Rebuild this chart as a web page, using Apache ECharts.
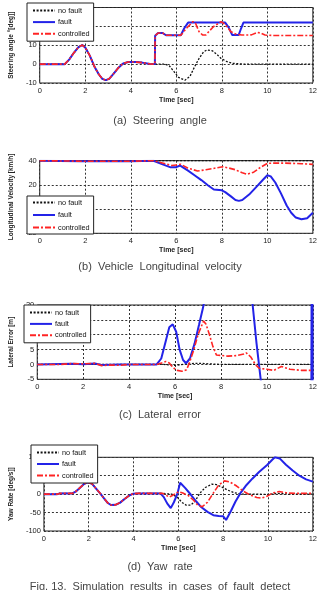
<!DOCTYPE html>
<html><head><meta charset="utf-8">
<script src="https://cdn.jsdelivr.net/npm/echarts@6/dist/echarts.min.js"></script>
<style>html,body{margin:0;padding:0;background:#fff}#c{width:320px;height:590px}</style>
</head><body><div id="c"></div>
<script>
// ---------- (a) Steering angle ----------
const steerCommonT = [0, 1.1, 1.3, 1.5, 1.7, 1.87, 2.0, 2.2, 2.4, 2.6, 2.75, 2.9, 3.05, 3.25, 3.45, 3.65, 3.88, 4.2, 4.5, 4.85, 5.06];
const steerCommonV = [0, 0, 2.5, 6, 9, 10.1, 8.8, 4.5, -1.2, -5.5, -7.8, -8.5, -7.8, -5, -2, 0.2, 1.1, 1.1, 0.8, 0.1, 0];
const steerNoFaultT = [5.5, 5.7, 5.9, 6.1, 6.38, 6.6, 6.8, 7.0, 7.2, 7.35, 7.6, 7.8, 7.97, 8.2, 8.46, 9.0, 12];
const steerNoFaultV = [0, -1, -4, -7, -8.5, -6.5, -1.5, 3, 6.5, 7.5, 7, 5, 3, 1.5, 0.4, 0, 0];
const steerFaultT = [5.07, 5.2, 5.4, 5.55, 6.2, 6.35, 6.52, 8.15, 8.3, 8.46, 8.74, 8.85, 8.95, 12];
const steerFaultV = [15, 16.5, 16.5, 15.3, 15.3, 19, 22, 22, 19.5, 15.4, 15.4, 19, 22, 22];
const steerCtrlT = [5.07, 5.2, 5.4, 5.55, 6.2, 6.45, 6.73, 6.85, 7.0, 7.15, 7.3, 7.45, 7.63, 7.97, 8.15, 8.4, 8.6, 8.88, 9.3, 9.57, 9.7, 9.9, 10.2, 12];
const steerCtrlV = [15, 16.5, 16.5, 15.3, 15.3, 19, 22.5, 21.5, 17.2, 15.5, 15.4, 17.5, 19.8, 22.5, 21, 17.2, 16, 15.4, 15.5, 16.8, 16.5, 15.4, 15.2, 15.2];

// ---------- (b) Longitudinal velocity ----------
const velNoFaultT = [0, 12];
const velNoFaultV = [40, 40];
const velFaultT = [0, 1.8, 4.0, 5.0, 5.2, 5.4, 5.55, 5.75, 5.97, 6.17, 6.5, 6.8, 7.1, 7.4, 7.65, 8.0, 8.15, 8.4, 8.6, 8.75, 8.9, 9.2, 9.5, 9.8, 10.0, 10.15, 10.35, 10.6, 10.85, 11.05, 11.25, 11.5, 11.75, 12];
const velFaultV = [40, 39.6, 39.6, 40, 38.5, 37, 35.9, 34.5, 34.5, 36, 32, 28, 24, 19.5, 16.2, 15.5, 14, 10.5, 7.5, 6.8, 7.5, 12, 18, 24, 28, 27, 22, 13, 3, -3, -7, -8.4, -7.5, -3];
const velCtrlT = [0, 1.8, 4.0, 5.0, 5.3, 5.6, 5.8, 6.0, 6.2, 6.5, 6.93, 7.3, 7.6, 8.04, 8.3, 8.6, 8.9, 9.1, 9.4, 9.7, 10.0, 10.3, 10.8, 11.5, 12];
const velCtrlV = [40, 39.6, 39.6, 40, 38.5, 37, 36, 36.5, 37, 34, 31.5, 32.5, 33.5, 35, 34, 32.5, 30, 28.8, 30.5, 34.5, 37.8, 38, 38, 37.5, 37];

// ---------- (c) Lateral error ----------
const latNoFaultT = [0, 1, 2, 3, 5.5, 6.0, 6.5, 7.0, 7.5, 8, 9, 12];
const latNoFaultV = [0, 0, 0.1, 0, 0, -0.3, 0.2, 0.4, 0.2, 0, 0, 0];
const latFaultT = [0, 1.5, 2.0, 2.5, 2.8, 3.2, 3.6, 5.2, 5.4, 5.6, 5.75, 5.9, 6.05, 6.2, 6.35, 6.48, 6.65, 6.85, 7.05, 7.2, 7.3, 7.5, 9.2, 9.38, 9.55, 9.73, 9.85, 11.93, 11.95, 11.965, 11.98, 11.995];
const latFaultV = [0, 0.2, 0.1, 0.3, -0.2, -0.1, 0, 0, 2, 8, 12.5, 13.5, 11, 5, 1.5, 0.4, 2, 7, 13.5, 18.5, 22, 30, 30, 20, 7, -5, -12, -30, 40, -30, 40, -30];
const latCtrlT = [0, 1.0, 1.5, 2.0, 2.5, 2.8, 3.2, 3.6, 4.0, 5.2, 5.45, 5.6, 5.75, 5.9, 6.1, 6.3, 6.5, 6.6, 6.8, 7.0, 7.24, 7.35, 7.5, 7.65, 7.8, 8.3, 8.7, 9.0, 9.1, 9.3, 9.5, 9.66, 10.0, 10.3, 10.63, 11.0, 11.5, 12];
const latCtrlV = [0, 0, 0.3, 0.2, 0.4, -0.4, -0.2, -0.3, 0, 0, 0.6, 1.0, 0.5, -1, -2, -2.3, -1.8, 0, 4.5, 10, 14.6, 13.5, 10, 6, 3.2, 2.8, 3, 3.5, 3.9, 2.5, 0, -1.3, -1.6, -2, -0.7, -1.6, -2, -2];

// ---------- (d) Yaw rate ----------
const yawCommonT = [0, 0.6, 0.7, 1.25, 1.4, 1.6, 1.8, 1.96, 2.15, 2.3, 2.5, 2.7, 2.85, 2.99, 3.2, 3.4, 3.6, 3.8, 3.97, 4.2, 5.2];
const yawCommonV = [0, 0, 2, 2, 6, 17, 28, 32, 28, 17, 3, -13, -24, -29.5, -29, -23, -13, -4, 1, 2, 2];
const yawNoFaultT = [5.3, 5.7, 5.95, 6.15, 6.35, 6.55, 6.75, 6.95, 7.2, 7.5, 7.7, 7.95, 8.2, 8.5, 8.8, 9.5, 10.0, 10.4, 11, 12];
const yawNoFaultV = [2, 0, -8, -22, -30, -30, -19, 2, 18, 27, 26, 19, 11, 4, 0, 0, -1, 2, 0, 0];
const yawFaultT = [5.35, 5.5, 5.66, 5.8, 5.95, 6.08, 6.3, 6.55, 6.8, 7.0, 7.3, 7.56, 7.8, 8.0, 8.13, 8.35, 8.55, 8.76, 9.0, 9.3, 9.6, 9.96, 10.2, 10.31, 10.52, 10.8, 11.1, 11.4, 11.7, 12];
const yawFaultV = [-8, -25, -38, -22, 0, 31, 17, -1, -20, -34, -48, -57, -59, -60, -70, -45, -20, 2, 22, 42, 60, 79, 94, 100, 97, 80, 64, 50, 40, 34];
const yawCtrlT = [5.3, 5.45, 5.6, 5.75, 6.01, 6.2, 6.45, 6.7, 6.86, 7.07, 7.3, 7.55, 7.8, 8.06, 8.3, 8.6, 8.9, 9.2, 9.5, 9.7, 9.95, 10.2, 10.5, 10.8, 11.2, 12];
const yawCtrlV = [2, -3, -8, -3, 6.7, 3, -4, -18, -29.5, -34, -22, 2, 25, 36, 33, 22, 8, -2, -9, -11, -6, 3, 7, 4, 2, 2];

// ---------- axes / labels ----------
const xTicks = { min: 0, max: 12, interval: 2 };
const panelYAxis = [
  { name: 'Steering angle °[deg]]', min: -10, max: 30, interval: 10 },
  { name: 'Longitudinal Velocity [km/h]', min: -20, max: 40, interval: 20 },
  { name: 'Lateral Error [m]', min: -5, max: 20, interval: 5 },
  { name: 'Yaw Rate [deg/s]]', min: -100, max: 100, interval: 50 }
];
const captions = ['(a)  Steering  angle', '(b)  Vehicle  Longitudinal  velocity', '(c)  Lateral  error', '(d)  Yaw  rate'];
const seriesNames = ['no fault', 'fault', 'controlled'];
const xName = 'Time [sec]';
const figCaption = 'Fig. 13.  Simulation  results  in  cases  of  fault  detect';

// ---------- layout ----------
const grids = [
  { left: 26.7, top: 7.5, width: 288.3, height: 75.5 },
  { left: 26.7, top: 160.7, width: 288.3, height: 72.6 },
  { left: 24, top: 305, width: 289, height: 74.3 },
  { left: 31, top: 457.3, width: 284, height: 73.7 }
];
const legendPos = [
  { left: 27, top: 3, padding: [3, 4, 3, 5], itemGap: 2.6 },
  { left: 27, top: 196, padding: [2, 4, 2, 5], itemGap: 3.5 },
  { left: 24, top: 305, padding: [3, 4, 3, 5], itemGap: 2.4 },
  { left: 31, top: 445, padding: [3, 4, 3, 5], itemGap: 2.5 }
];
const captionY = [122, 268, 416, 568];

function zip(t, v) { return t.map((x, i) => [x, v[i]]); }
function cat(a, b) { return a.concat(b); }

const panelData = [
  [zip(cat(steerCommonT, steerNoFaultT), cat(steerCommonV, steerNoFaultV)),
   zip(cat(steerCommonT, steerFaultT), cat(steerCommonV, steerFaultV)),
   zip(cat(steerCommonT, steerCtrlT), cat(steerCommonV, steerCtrlV))],
  [zip(velNoFaultT, velNoFaultV), zip(velFaultT, velFaultV), zip(velCtrlT, velCtrlV)],
  [zip(latNoFaultT, latNoFaultV), zip(latFaultT, latFaultV), zip(latCtrlT, latCtrlV)],
  [zip(cat(yawCommonT, yawNoFaultT), cat(yawCommonV, yawNoFaultV)),
   zip(cat(yawCommonT, yawFaultT), cat(yawCommonV, yawFaultV)),
   zip(cat(yawCommonT, yawCtrlT), cat(yawCommonV, yawCtrlV))]
];

const lineStyles = [
  { color: '#111', width: 1.3, type: [2, 1.6] },
  { color: '#2323e8', width: 2, type: 'solid' },
  { color: '#ff2424', width: 1.6, type: [6, 2, 2, 2] }
];

const FONT = 'Liberation Sans, Arial, sans-serif';
const option = {
  animation: false,
  backgroundColor: '#fff',
  grid: grids.map(g => Object.assign({ show: true, borderColor: '#222', borderWidth: 1, backgroundColor: '#fff', containLabel: false }, g)),
  xAxis: grids.map((g, i) => ({
    type: 'value', gridIndex: i, min: xTicks.min, max: xTicks.max, interval: xTicks.interval,
    name: xName, nameLocation: 'middle', nameGap: 13.5,
    nameTextStyle: { fontSize: 7, fontWeight: 'bold', color: '#222', fontFamily: FONT },
    axisLine: { show: false }, axisTick: { show: false },
    axisLabel: { fontSize: 7.5, color: '#222', margin: 4, fontFamily: FONT },
    splitLine: { show: true, lineStyle: { color: '#333', width: 1, type: [2, 2] } }
  })),
  yAxis: panelYAxis.map((a, i) => ({
    type: 'value', gridIndex: i, min: a.min, max: a.max, interval: a.interval,
    name: a.name, nameLocation: 'middle', nameGap: i === 3 ? 22 : 17,
    nameTextStyle: { fontSize: 6.5, fontWeight: 'bold', color: '#222', fontFamily: FONT },
    axisLine: { show: false }, axisTick: { show: false },
    axisLabel: { fontSize: 7.5, color: '#222', margin: 3, fontFamily: FONT },
    splitLine: { show: true, lineStyle: { color: '#333', width: 1, type: [2, 2] } }
  })),
  legend: legendPos.map(l => ({
    orient: 'vertical', left: l.left, top: l.top, padding: l.padding, itemGap: l.itemGap,
    itemWidth: 22, itemHeight: 9, data: seriesNames, backgroundColor: '#fff',
    borderColor: '#222', borderWidth: 1, borderRadius: 0, selectedMode: false, z: 10,
    itemStyle: { opacity: 0, borderWidth: 0 },
    textStyle: { fontSize: 7.3, color: '#111', fontFamily: FONT, padding: [0, 0, 0, -2], lineHeight: 9 }
  })),
  series: [],
  graphic: captions.map((c, i) => ({
    type: 'text', left: 'center', top: captionY[i] - 7,
    style: { text: c, fontSize: 11, fill: '#444', fontFamily: FONT }
  })).concat([{
    type: 'text', left: 'center', top: 581,
    style: { text: figCaption, fontSize: 11, fill: '#444', fontFamily: FONT }
  }])
};

panelData.forEach((sets, gi) => {
  sets.forEach((d, si) => {
    option.series.push({
      type: 'line', name: seriesNames[si], xAxisIndex: gi, yAxisIndex: gi,
      data: d, symbol: 'none', smooth: false, clip: true,
      lineStyle: lineStyles[si], itemStyle: { color: lineStyles[si].color },
      z: 2 + si
    });
  });
});

echarts.init(document.getElementById('c'), null, { renderer: 'canvas' }).setOption(option);
</script>
</body></html>
